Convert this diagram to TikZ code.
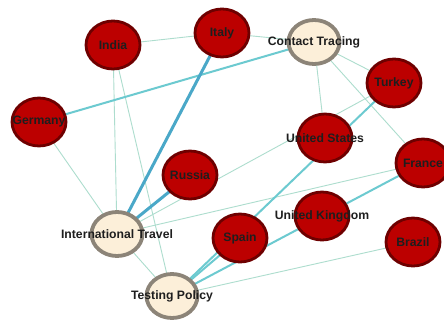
\documentclass[tikz,border=0pt]{standalone}
\usepackage{fontspec}
\setmainfont{Liberation Sans}
\usetikzlibrary{shapes.geometric,backgrounds}
\definecolor{cfill}{HTML}{BC0000}
\definecolor{cline}{HTML}{6E0000}
\definecolor{tfill}{HTML}{FCEFD9}
\definecolor{tline}{HTML}{8C8478}
\definecolor{ethin}{HTML}{ADDDCE}
\definecolor{emid}{HTML}{6CCAD0}
\definecolor{ethick}{HTML}{4AA8C8}
\definecolor{txt}{HTML}{1E1E1E}
\tikzset{
  country/.style={ellipse, draw=cline, fill=cfill, line width=2.8pt,
    minimum width=54pt, minimum height=48pt, inner sep=0pt},
  topic/.style={ellipse, draw=tline, fill=tfill, line width=3.8pt,
    minimum width=51pt, minimum height=44pt, inner sep=0pt},
  lbl/.style={font=\bfseries\fontsize{12.2}{13}\selectfont, text=txt, inner sep=0pt},
  thinedge/.style={draw=ethin, line width=0.9pt},
  midedge/.style={draw=emid, line width=2pt},
  thickedge/.style={draw=ethick, line width=3pt},
}
\begin{document}
\begin{tikzpicture}[x=1pt, y=-1pt]
\useasboundingbox (0,0) rectangle (444,326);

% countries
\node[country] (india)   at (113,45)  {};
\node[country] (italy)   at (222,33)  {};
\node[country] (turkey)  at (394,83)  {};
\node[country] (usa)     at (325,138) {};
\node[country] (france)  at (423,163) {};
\node[country] (germany) at (39,122)  {};
\node[country] (russia)  at (190,175) {};
\node[country] (spain)   at (240,238) {};
\node[country] (uk)      at (322,216) {};
\node[country] (brazil)  at (413,242) {};

% policy topics
\node[topic] (contact) at (314,42)  {};
\node[topic] (travel)  at (117,234) {};
\node[topic] (testing) at (172,296) {};

% white canvas and connections behind the nodes
\begin{scope}[on background layer]
  \fill[white] (0,0) rectangle (444,326);
  \draw[thinedge] (india.center) -- (italy.center);
  \draw[thinedge] (india.center) -- (travel.center);
  \draw[thinedge] (india.center) -- (testing.center);
  \draw[thinedge] (germany.center) -- (travel.center);
  \draw[thinedge] (italy.center) -- (contact.center);
  \draw[thinedge] (contact.center) -- (turkey.center);
  \draw[thinedge] (contact.center) -- (usa.center);
  \draw[thinedge] (contact.center) -- (france.center);
  \draw[thinedge] (turkey.center) -- (travel.center);
  \draw[thinedge] (travel.center) -- (france.center);
  \draw[thinedge] (travel.center) -- (testing.center);
  \draw[thinedge] (testing.center) -- (brazil.center);
  \draw[midedge] (germany.center) -- (contact.center);
  \draw[midedge] (turkey.center) -- (testing.center);
  \draw[midedge] (spain.center) -- (testing.center);
  \draw[midedge] (testing.center) -- (france.center);
  \draw[thickedge] (italy.center) -- (travel.center);
  \draw[thickedge] (russia.center) -- (travel.center);
\end{scope}

% labels
\node[lbl] at (india.center)   {India};
\node[lbl] at (italy.center)   {Italy};
\node[lbl] at (turkey.center)  {Turkey};
\node[lbl] at (usa.center)     {United States};
\node[lbl] at (france.center)  {France};
\node[lbl] at (germany.center) {Germany};
\node[lbl] at (russia.center)  {Russia};
\node[lbl] at (spain.center)   {Spain};
\node[lbl] at (uk.center)      {United Kingdom};
\node[lbl] at (brazil.center)  {Brazil};
\node[lbl] at (contact.center) {Contact Tracing};
\node[lbl] at (travel.center)  {International Travel};
\node[lbl] at (testing.center) {Testing Policy};
\end{tikzpicture}
\end{document}
